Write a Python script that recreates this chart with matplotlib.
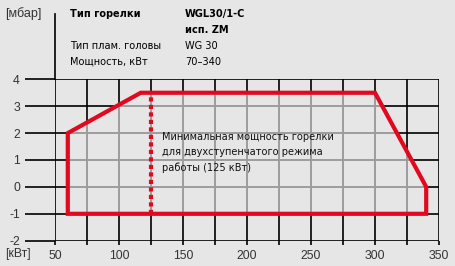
import matplotlib
matplotlib.use("Agg")
import matplotlib.pyplot as plt
from matplotlib.patches import Polygon

# data
x_ticks = [50, 100, 150, 200, 250, 300, 350]
x_minor = [75, 125, 175, 225, 275, 325]
y_ticks = [-2, -1, 0, 1, 2, 3, 4]
field_x = [60, 60, 117, 300, 340, 340]
field_y = [-1, 2, 3.5, 3.5, 0, -1]
min_power = 125
min_top = 3.5
min_bottom = -1

bg = '#e5e6e5'
red = '#e2081f'
plt.rcParams['axes.unicode_minus'] = False

W, H = 456, 266
fig = plt.figure(figsize=(W / 100, H / 100), dpi=100, facecolor=bg)
ax = fig.add_axes([55 / W, 1 - 240.7 / H, (439 - 55) / W, (240.7 - 79.3) / H])
ax.set_facecolor(bg)
ax.set_xlim(50, 350)
ax.set_ylim(-2, 4)
for s in ax.spines.values():
    s.set_visible(False)

# black grid
for xv in x_ticks + x_minor:
    ax.axvline(xv, color='black', lw=1.2, zorder=1)
for yv in y_ticks:
    ax.axhline(yv, color='black', lw=1.2, zorder=1)
# y-axis extends above the plot
ax.plot([50, 50], [4, 6.43], color='black', lw=1.2, clip_on=False, zorder=1)

# inside the field the grid is gray
pts = list(zip(field_x, field_y))
ax.add_patch(Polygon(pts, closed=True, facecolor=bg, edgecolor='none', zorder=2))
clip = Polygon(pts, closed=True, transform=ax.transData)
for xv in x_ticks + x_minor:
    l = ax.axvline(xv, color='#9c9c9c', lw=1.4, zorder=3)
    l.set_clip_path(clip)
for yv in y_ticks:
    l = ax.axhline(yv, color='#9c9c9c', lw=1.4, zorder=3)
    l.set_clip_path(clip)

ax.add_patch(Polygon(pts, closed=True, facecolor='none', edgecolor=red,
                     lw=3.0, joinstyle='miter', zorder=5))
ax.plot([min_power, min_power], [min_bottom, min_top], color=red, lw=3.0,
        dashes=(1.0, 0.8), dash_capstyle='butt', zorder=6)

ax.set_xticks(x_ticks)
ax.set_xticks(x_minor, minor=True)
ax.set_yticks(y_ticks)
ax.tick_params(axis='y', length=21.6, width=1.2, pad=3.6, labelsize=8.8,
               labelcolor='#333333', color='black')
ax.tick_params(axis='x', which='both', length=3, width=1.2, pad=4,
               labelsize=8.8, labelcolor='#333333', color='black')
for lab in ax.get_xticklabels() + ax.get_yticklabels():
    lab.set_family('Liberation Sans')


def ftext(x, y, s, **kw):
    fig.text(x / W, 1 - y / H, s, va='center', ha='left', **kw)


cond = dict(family='DejaVu Sans', stretch='condensed', fontsize=7.8)
ftext(5, 14, '[мбар]', fontsize=9, color='#333333', family='Liberation Sans')
ftext(5, 254, '[кВт]', fontsize=8.8, color='#333333', family='Liberation Sans')
ftext(70, 14, 'Тип горелки', fontweight='bold', **cond)
ftext(185, 14, 'WGL30/1-C', fontweight='bold', **cond)
ftext(185, 30, 'исп. ZM', fontweight='bold', **cond)
ftext(70, 46, 'Тип плам. головы', **cond)
ftext(185, 46, 'WG 30', **cond)
ftext(70, 62, 'Мощность, кВт', **cond)
ftext(185, 62, '70–340', **cond)

note = ['Минимальная мощность горелки', 'для двухступенчатого режима',
        'работы (125 кВт)']
for i, line in enumerate(note):
    ftext(162, 137 + i * 15.3, line, color='#111111', **cond)

fig.savefig('out.png', dpi=100, facecolor=bg)
